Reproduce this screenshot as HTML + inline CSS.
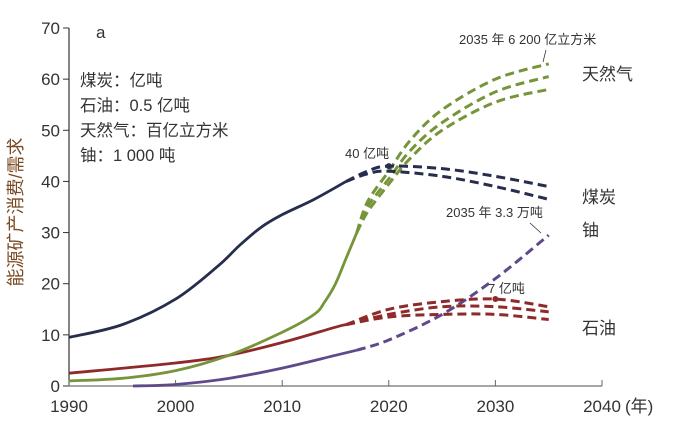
<!DOCTYPE html>
<html><head><meta charset="utf-8">
<style>
body{margin:0;background:#fff;}
svg{display:block;font-family:"Liberation Sans","Noto Sans CJK SC",sans-serif;}
</style></head>
<body>
<svg id="chart" width="685" height="427">
<g id="axes"></g><g id="marks"></g><g id="labels">
<text x="96" y="38" font-size="17" fill="#333">a</text>
<text x="80" y="86" font-size="16.5" fill="#333">煤炭：亿吨</text>
<text x="80" y="111" font-size="16.5" fill="#333">石油：0.5 亿吨</text>
<text x="80" y="136" font-size="16.5" fill="#333">天然气：百亿立方米</text>
<text x="80" y="161" font-size="16.5" fill="#333">铀：1 000 吨</text>
<text transform="translate(22,212) rotate(-90)" text-anchor="middle" font-size="18" fill="#7a4a22">能源矿产消费/需求</text>
<text x="582" y="80" font-size="17" fill="#333">天然气</text>
<text x="582" y="203" font-size="17" fill="#333">煤炭</text>
<text x="582" y="236" font-size="17" fill="#333">铀</text>
<text x="582" y="334" font-size="17" fill="#333">石油</text>
<text x="459" y="44" font-size="13" fill="#333">2035 年 6 200 亿立方米</text>
<line x1="546" y1="50" x2="543" y2="62" stroke="#333" stroke-width="0.8"/>
<text x="345" y="158" font-size="13" fill="#333">40 亿吨</text>
<text x="446" y="217" font-size="13" fill="#333">2035 年 3.3 万吨</text>
<line x1="530" y1="223" x2="541" y2="233" stroke="#333" stroke-width="0.8"/>
<text x="488" y="293" font-size="13" fill="#333">7 亿吨</text>
</g></svg>
<script>
const yTicks=[0,10,20,30,40,50,60,70];
const xTicks=[1990,2000,2010,2020,2030,2040];
const coalYears=[1990,1995,2000,2004,2006,2008,2010,2013,2016];
const coalVals=[9.5,12,17,23.5,27.5,31,33.5,36.5,40];
const coalHiYears=[2016,2018,2020,2025,2030,2035];
const coalHiVals=[40,42,43,42.5,41,39];
const coalLoVals=[40,41.5,42,41,39,36.5];
const gasYears=[1990,1995,2000,2005,2010,2013,2014,2015,2016,2017];
const gasVals=[1,1.5,3,6,10.5,14,16.5,20,25,30];
const gasDashYears=[2017,2018,2020,2022,2025,2030,2035];
const gasHiVals=[30,36,42,48,54,60,63];
const gasMidVals=[30,35,40.5,46,51.5,57.5,60.5];
const gasLoVals=[30,34,39.5,44.5,50,55.5,58];
const oilYears=[1990,2000,2005,2010,2015,2016];
const oilVals=[2.5,4.5,6,8.5,11.5,12];
const oilDashYears=[2016,2020,2025,2030,2035];
const oilHiVals=[12,15,16.5,17,15.5];
const oilMidVals=[12,14,15.5,15.5,14.5];
const oilLoVals=[12,13.5,14,14,13];
const uYears=[1996,2000,2005,2010,2015,2017];
const uVals=[0,0.3,1.5,3.5,6,7];
const uDashYears=[2017,2020,2025,2030,2035];
const uDashVals=[7,9,14,21,29.5];

const NS='http://www.w3.org/2000/svg';
const X=y=>69+(y-1990)*(602-69)/50;
const Y=v=>386-v*(386-28)/70;
const axes=document.getElementById('axes'),marks=document.getElementById('marks');
function mk(tag,attrs,parent){const e=document.createElementNS(NS,tag);for(const k in attrs)e.setAttribute(k,attrs[k]);parent.appendChild(e);return e;}
let a=mk('line',{x1:69,y1:28,x2:69,y2:386,stroke:'#333','stroke-width':1.2},axes);


a=mk('line',{x1:69,y1:386,x2:602,y2:386,stroke:'#888','stroke-width':1.5},axes);


yTicks.forEach(t=>{mk('line',{x1:63,x2:69,y1:Y(t),y2:Y(t),stroke:'#333'},axes);
const tx=mk('text',{x:60,y:Y(t)+6,'text-anchor':'end','font-size':17,fill:'#333'},axes);tx.textContent=t;

});
xTicks.forEach(t=>{mk('line',{x1:X(t),x2:X(t),y1:380,y2:386,stroke:'#666'},axes);
const tx=mk('text',{x:X(t),y:412,'text-anchor':'middle','font-size':17,fill:'#333'},axes);tx.textContent=t;

});
let yr=mk('text',{x:625,y:412,'font-size':17,fill:'#333'},axes);yr.textContent='(年)';


function path(xs,vs,color,dash,name){
 const pts=xs.map((x,i)=>[X(x),Y(vs[i])]);
 let d='M'+pts[0][0]+','+pts[0][1];
 for(let i=0;i<pts.length-1;i++){const p0=pts[i-1]||pts[i],p1=pts[i],p2=pts[i+1],p3=pts[i+2]||p2;
 d+=' C'+(p1[0]+(p2[0]-p0[0])/6)+','+(p1[1]+(p2[1]-p0[1])/6)+' '+(p2[0]-(p3[0]-p1[0])/6)+','+(p2[1]-(p3[1]-p1[1])/6)+' '+p2[0]+','+p2[1];}
 const p=mk('path',{d:d,fill:'none',stroke:color,'stroke-width':dash?3:2.8,'stroke-dasharray':dash?'9,5':'none'},marks);
 
 
}
const cC='#262d4d',cG='#76953a',cO='#8e2a2a',cU='#5e4a8a';
path(gasDashYears,gasHiVals,cG,true,'gas-forecast-high');
path(gasDashYears,gasMidVals,cG,true,'gas-forecast-mid');
path(gasDashYears,gasLoVals,cG,true,'gas-forecast-low');
path(uYears,uVals,cU,false,'uranium-history');
path(uDashYears,uDashVals,cU,true,'uranium-forecast');
path(oilYears,oilVals,cO,false,'oil-history');
path(oilDashYears,oilHiVals,cO,true,'oil-forecast-high');
path(oilDashYears,oilMidVals,cO,true,'oil-forecast-mid');
path(oilDashYears,oilLoVals,cO,true,'oil-forecast-low');
path(gasYears,gasVals,cG,false,'gas-history');
path(coalYears,coalVals,cC,false,'coal-history');
path(coalHiYears,coalHiVals,cC,true,'coal-forecast-high');
path(coalHiYears,coalLoVals,cC,true,'coal-forecast-low');
let dt=mk('circle',{cx:X(2020),cy:Y(43),r:3,fill:cC},marks);


dt=mk('circle',{cx:X(2030),cy:Y(17),r:3,fill:cO},marks);


</script>
</body></html>
